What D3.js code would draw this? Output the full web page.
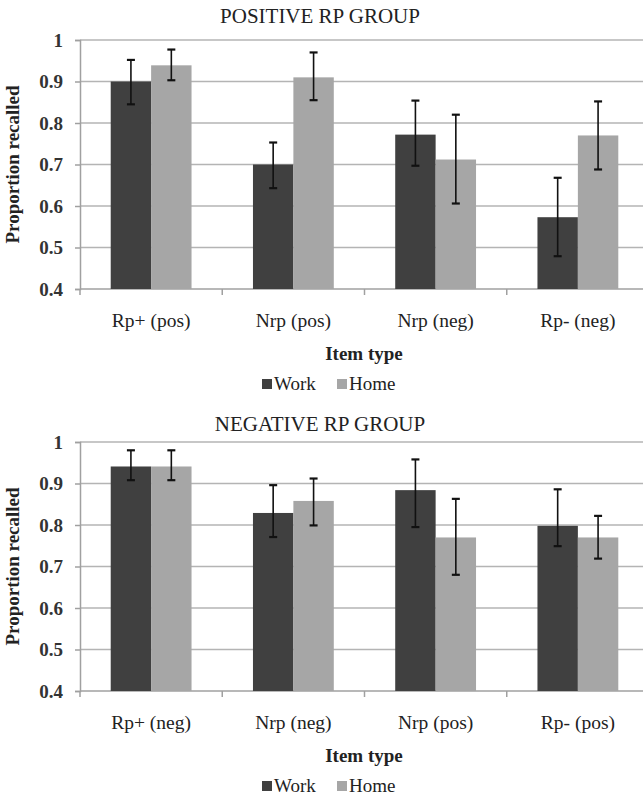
<!DOCTYPE html>
<html>
<head>
<meta charset="utf-8">
<script src="https://cdn.jsdelivr.net/npm/d3@7"></script>
<style>
  body { margin: 0; background: #fff; }
  svg, svg text { font-family: "Liberation Serif", "Times New Roman", Times, "DejaVu Serif", serif !important; }
</style>
</head>
<body>
<div id="chart"></div>
<script>
// series names
var series = ["Work", "Home"];
var yTicks = [0.4, 0.5, 0.6, 0.7, 0.8, 0.9, 1];

// positive RP group
var posCats = ["Rp+ (pos)", "Nrp (pos)", "Nrp (neg)", "Rp- (neg)"];
var posWork = [0.90, 0.70, 0.772, 0.573];
var posWorkLo = [0.845, 0.643, 0.697, 0.479];
var posWorkHi = [0.952, 0.753, 0.854, 0.668];
var posHome = [0.939, 0.910, 0.712, 0.770];
var posHomeLo = [0.903, 0.855, 0.606, 0.688];
var posHomeHi = [0.977, 0.970, 0.820, 0.852];

// negative RP group
var negCats = ["Rp+ (neg)", "Nrp (neg)", "Nrp (pos)", "Rp- (pos)"];
var negWork = [0.941, 0.829, 0.884, 0.798];
var negWorkLo = [0.908, 0.771, 0.795, 0.749];
var negWorkHi = [0.980, 0.896, 0.958, 0.886];
var negHome = [0.941, 0.858, 0.770, 0.770];
var negHomeLo = [0.908, 0.799, 0.680, 0.719];
var negHomeHi = [0.980, 0.912, 0.863, 0.822];

var svgWidth = 643;
var svgHeight = 796;
var colors = { Work: "#404040", Home: "#a6a6a6" };
var serif = "'Liberation Serif', 'Times New Roman', Times, 'DejaVu Serif', serif";

var svg = d3.select("#chart")
  .append("svg")
  .attr("width", svgWidth)
  .attr("height", svgHeight)
  .attr("font-family", serif);

function drawPanel(top, titleY, title, cats, work, workLo, workHi, home, homeLo, homeHi) {
  var g = svg.append("g").attr("transform", `translate(0, ${top})`);

  var plotTop = 40, plotBottom = 289, plotLeft = 80, plotRight = 649;

  var x0 = d3.scaleBand().domain(cats).range([plotLeft, plotRight]);
  var x1 = d3.scaleBand().domain(series).range([0, x0.bandwidth()]).paddingOuter(0.76);
  var y = d3.scaleLinear().domain([0.4, 1]).range([plotBottom, plotTop]);

  // title
  g.append("text")
    .attr("x", 320)
    .attr("y", titleY)
    .attr("text-anchor", "middle")
    .attr("font-size", "21px")
    .attr("fill", "#222")
    .text(title);

  // gridlines
  g.selectAll(".grid")
    .data(yTicks.filter(d => d > 0.4))
    .enter()
    .append("line")
    .attr("x1", plotLeft)
    .attr("x2", plotRight)
    .attr("y1", d => y(d))
    .attr("y2", d => y(d))
    .attr("stroke", "#b4b4b4")
    .attr("stroke-width", 1.5);

  // y axis
  var yAxis = d3.axisLeft(y).tickValues(yTicks).tickSize(5).tickFormat(d => d === 1 ? "1" : d3.format(".1f")(d));
  var ya = g.append("g")
    .attr("transform", `translate(${plotLeft}, 0)`)
    .call(yAxis);
  ya.attr("font-family", serif);
  ya.select(".domain").attr("stroke", "#a0a0a0").attr("stroke-width", 1.5);
  ya.selectAll(".tick line").attr("stroke", "#a0a0a0").attr("stroke-width", 1.5);
  ya.selectAll(".tick text")
    .attr("x", -17)
    .attr("font-size", "19px")
    .attr("font-weight", "bold")
    .attr("fill", "#333");

  // x axis
  var xa = g.append("g")
    .attr("transform", `translate(0, ${plotBottom})`)
    .call(d3.axisBottom(x0).tickSize(0));
  xa.attr("font-family", serif);
  xa.select(".domain").remove();
  xa.append("line")
    .attr("x1", plotLeft).attr("x2", plotRight)
    .attr("stroke", "#a0a0a0").attr("stroke-width", 1.5);
  xa.selectAll(".sep")
    .data(cats)
    .enter()
    .append("line")
    .attr("x1", d => x0(d))
    .attr("x2", d => x0(d))
    .attr("y1", 0)
    .attr("y2", 6)
    .attr("stroke", "#a0a0a0")
    .attr("stroke-width", 1.5);
  xa.selectAll(".tick text")
    .attr("y", 38)
    .attr("dy", null)
    .attr("font-size", "19.5px")
    .attr("fill", "#222");

  // bars
  var rows = cats.map(function(c, i) {
    return [
      { cat: c, key: "Work", v: work[i], lo: workLo[i], hi: workHi[i] },
      { cat: c, key: "Home", v: home[i], lo: homeLo[i], hi: homeHi[i] }
    ];
  }).flat();

  g.selectAll(".bar")
    .data(rows)
    .enter()
    .append("rect")
    .attr("x", d => x0(d.cat) + x1(d.key))
    .attr("y", d => y(d.v))
    .attr("width", x1.bandwidth())
    .attr("height", d => y(0.4) - y(d.v))
    .attr("fill", d => colors[d.key]);

  // error bars
  var eb = g.selectAll(".err")
    .data(rows)
    .enter()
    .append("g")
    .attr("transform", d => `translate(${x0(d.cat) + x1(d.key) + x1.bandwidth() / 2}, 0)`);
  eb.append("line")
    .attr("y1", d => y(d.lo)).attr("y2", d => y(d.hi))
    .attr("stroke", "#111").attr("stroke-width", 1.6);
  eb.append("line")
    .attr("x1", -4).attr("x2", 4)
    .attr("y1", d => y(d.hi)).attr("y2", d => y(d.hi))
    .attr("stroke", "#111").attr("stroke-width", 2.2);
  eb.append("line")
    .attr("x1", -4).attr("x2", 4)
    .attr("y1", d => y(d.lo)).attr("y2", d => y(d.lo))
    .attr("stroke", "#111").attr("stroke-width", 2.2);

  // y label
  g.append("text")
    .attr("transform", `translate(19, ${(plotTop + plotBottom) / 2}) rotate(-90)`)
    .attr("text-anchor", "middle")
    .attr("font-size", "19px")
    .attr("font-weight", "bold")
    .attr("fill", "#222")
    .text("Proportion recalled");

  // x label
  g.append("text")
    .attr("x", 364)
    .attr("y", 360)
    .attr("text-anchor", "middle")
    .attr("font-size", "19px")
    .attr("font-weight", "bold")
    .attr("fill", "#222")
    .text("Item type");

  // legend
  var legend = g.append("g").attr("transform", "translate(262, 390)");
  var items = legend.selectAll(".lg")
    .data(series)
    .enter()
    .append("g")
    .attr("transform", (d, i) => `translate(${i * 75}, 0)`);
  items.append("rect")
    .attr("x", 0).attr("y", -11)
    .attr("width", 10).attr("height", 10)
    .attr("fill", d => colors[d]);
  items.append("text")
    .attr("x", 12).attr("y", 0)
    .attr("font-size", "19px")
    .attr("fill", "#222")
    .text(d => d);
}

drawPanel(0, 23, "POSITIVE RP GROUP", posCats, posWork, posWorkLo, posWorkHi, posHome, posHomeLo, posHomeHi);
drawPanel(402, 29, "NEGATIVE RP GROUP", negCats, negWork, negWorkLo, negWorkHi, negHome, negHomeLo, negHomeHi);
</script>
</body>
</html>
